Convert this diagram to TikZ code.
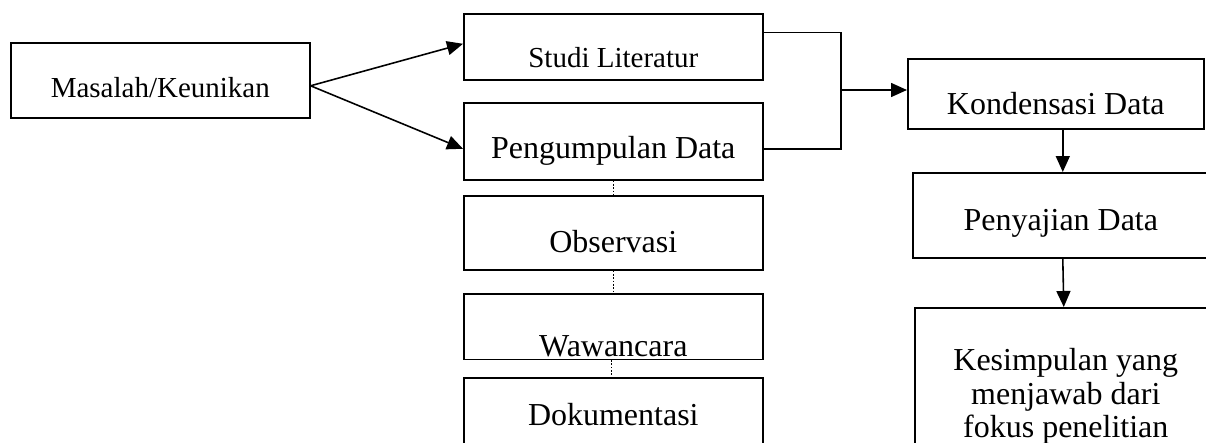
\documentclass[tikz,border=0pt]{standalone}
\usepackage{fontspec}
\setmainfont{Liberation Serif}
\usepackage{tikz}
\usetikzlibrary{arrows.meta,positioning,calc}

\newcommand{\bigtxt}{\fontsize{18.2pt}{19.1pt}\selectfont}
\newcommand{\smalltxt}{\fontsize{16.5pt}{18pt}\selectfont}

\begin{document}
\begin{tikzpicture}[
    box/.style={rectangle, draw=black, line width=0.9pt, inner sep=0pt,
        anchor=north west, minimum width=5.98cm, font=\bigtxt, align=center},
    flow/.style={-{Triangle[length=0.32cm, width=0.28cm]}, line width=0.9pt},
    joint/.style={line width=0.9pt},
    dots/.style={densely dotted, line width=0.9pt}
]
\useasboundingbox (0,0) rectangle (24.12,-8.86);
\clip (0,0) rectangle (24.12,-8.86);

\node[box, font=\smalltxt, text height=1.10cm, text depth=0.40cm] (masalah) at (0.20,-0.84) {Masalah/Keunikan};

\node[box, font=\smalltxt, text height=1.08cm, text depth=0.24cm] (studi) at (9.26,-0.26) {Studi Literatur};
\node[box, text height=1.12cm, text depth=0.42cm] (kumpul) at (9.26,-2.04) {Pengumpulan Data};
\node[box, text height=1.14cm, text depth=0.34cm] (obs) at (9.26,-3.90) {Observasi};
\node[box, text height=1.25cm, text depth=0.06cm] (waw) at (9.26,-5.86) {Wawancara};
\node[box, text height=0.96cm, text depth=0.60cm] (dok) at (9.26,-7.54) {Dokumentasi};

\node[box, minimum width=5.92cm, text height=1.12cm, text depth=0.28cm] (kond) at (18.14,-1.16) {Kondensasi Data};
\node[box, minimum width=5.92cm, text height=1.16cm, text depth=0.54cm] (saji) at (18.24,-3.44) {Penyajian Data};
\node[box, minimum width=6.04cm, text height=2.60cm, text depth=0.6cm] (simpul) at (18.28,-6.14) {Kesimpulan yang\\menjawab dari\\fokus penelitian};

\coordinate (join) at (16.82,-1.80);

% masalah ke dua cabang
\draw[flow] ([yshift=-0.11cm]masalah.east) -- ([yshift=0.06cm]studi.west);
\draw[flow] ([yshift=-0.11cm]masalah.east) -- ([yshift=-0.15cm]kumpul.west);

% gabungan ke kondensasi
\draw[joint] ([yshift=0.29cm]studi.east) -| (join) |- ([yshift=-0.15cm]kumpul.east);
\draw[flow] (join) -- (join -| kond.west);

\draw[flow] ([xshift=0.14cm]kond.south) -- ([xshift=0.04cm]saji.north);
\draw[flow] ([xshift=0.04cm]saji.south) -- ([xshift=-0.04cm]simpul.north);

\draw[dots] (kumpul.south) -- (obs.north);
\draw[dots] (obs.south) -- (waw.north);
\draw[dots] ([xshift=-0.04cm]waw.south) -- ([xshift=-0.04cm]dok.north);

\end{tikzpicture}
\end{document}
